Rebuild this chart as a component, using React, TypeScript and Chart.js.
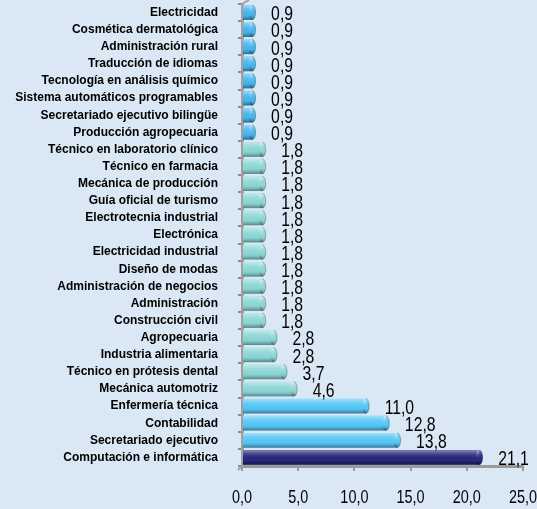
import React, { useEffect, useRef } from 'react';
import { Chart, registerables } from 'chart.js';

Chart.register(...registerables);

const categories: string[] = [
  'Electricidad',
  'Cosmética dermatológica',
  'Administración rural',
  'Traducción de idiomas',
  'Tecnología en análisis químico',
  'Sistema automáticos programables',
  'Secretariado ejecutivo bilingüe',
  'Producción agropecuaria',
  'Técnico en laboratorio clínico',
  'Técnico en farmacia',
  'Mecánica de producción',
  'Guía oficial de turismo',
  'Electrotecnia industrial',
  'Electrónica',
  'Electricidad industrial',
  'Diseño de modas',
  'Administración de negocios',
  'Administración',
  'Construcción civil',
  'Agropecuaria',
  'Industria alimentaria',
  'Técnico en prótesis dental',
  'Mecánica automotriz',
  'Enfermería técnica',
  'Contabilidad',
  'Secretariado ejecutivo',
  'Computación e informática',
];

const values: number[] = [
  0.9, 0.9, 0.9, 0.9, 0.9, 0.9, 0.9, 0.9,
  1.8, 1.8, 1.8, 1.8, 1.8, 1.8, 1.8, 1.8, 1.8, 1.8, 1.8,
  2.8, 2.8, 3.7, 4.6,
  11.0, 12.8, 13.8,
  21.1,
];

const xTickValues: number[] = [0, 5, 10, 15, 20, 25];

const BLUE = '#44b4ee';
const TEAL = '#8cd5d5';
const LIGHTBLUE = '#55c5f6';
const NAVY = '#24247a';

function barColor(v: number, i: number, n: number): string {
  if (i === n - 1) return NAVY;
  if (v >= 10) return LIGHTBLUE;
  if (v >= 1.5) return TEAL;
  return BLUE;
}

const fmt = (v: number) => v.toFixed(1).replace('.', ',');

const SANS = 'Arial, "Liberation Sans", sans-serif';

function narrowText(ctx: CanvasRenderingContext2D, text: string, x: number, y: number, sx: number, align: 'left' | 'center') {
  ctx.save();
  ctx.translate(x, y);
  ctx.scale(sx, 1);
  ctx.textAlign = align;
  ctx.fillText(text, 0, 0);
  ctx.restore();
}

const decorPlugin = {
  id: 'decor',
  beforeDraw(chart: any) {
    const { ctx, width, height } = chart;
    ctx.save();
    ctx.fillStyle = '#dae7f4';
    ctx.fillRect(0, 0, width, height);
    ctx.restore();
  },
  afterDraw(chart: any) {
    const { ctx, chartArea } = chart;
    ctx.save();
    ctx.strokeStyle = '#a0a0a0';
    ctx.lineWidth = 2;
    ctx.beginPath();
    ctx.moveTo(chartArea.left, chartArea.top);
    ctx.lineTo(chartArea.left + 7, 0);
    ctx.moveTo(chartArea.left, chartArea.bottom);
    ctx.lineTo(chartArea.left - 4, chartArea.bottom + 4);
    ctx.stroke();
    ctx.restore();
  },
  afterDatasetsDraw(chart: any) {
    const { ctx } = chart;
    const meta = chart.getDatasetMeta(0);
    const colors = chart.data.datasets[0].backgroundColor as string[];
    ctx.save();
    meta.data.forEach((bar: any, i: number) => {
      const { x, y, base, height } = bar.getProps(['x', 'y', 'base', 'height'], true);
      const top = y - height / 2;
      const bottom = y + height / 2;
      const g = ctx.createLinearGradient(0, top, 0, bottom);
      g.addColorStop(0, 'rgba(255,255,255,0.45)');
      g.addColorStop(0.3, 'rgba(255,255,255,0.12)');
      g.addColorStop(0.55, 'rgba(255,255,255,0)');
      g.addColorStop(0.8, 'rgba(0,0,0,0.12)');
      g.addColorStop(1, 'rgba(0,0,0,0.38)');
      ctx.beginPath();
      ctx.ellipse(x, y, 3.5, height / 2, 0, 0, Math.PI * 2);
      ctx.fillStyle = colors[i];
      ctx.fill();
      ctx.fillStyle = g;
      ctx.fillRect(base, top, x - base, height);
      ctx.beginPath();
      ctx.ellipse(x, y, 3.5, height / 2, 0, 0, Math.PI * 2);
      ctx.fill();
      ctx.beginPath();
      ctx.ellipse(x, y, 3.5, height / 2, 0, -Math.PI / 2, Math.PI / 2);
      ctx.strokeStyle = 'rgba(0,0,0,0.25)';
      ctx.lineWidth = 1;
      ctx.stroke();
    });
    // value labels
    ctx.fillStyle = '#000';
    ctx.font = `21px ${SANS}`;
    ctx.textBaseline = 'middle';
    meta.data.forEach((bar: any, i: number) => {
      const { x, y } = bar.getProps(['x', 'y'], true);
      narrowText(ctx, fmt(values[i]), x + 19, y + 2, 0.75, 'left');
    });
    // x tick labels (narrow)
    const xs = chart.scales.x;
    ctx.font = `19px ${SANS}`;
    ctx.textBaseline = 'middle';
    xTickValues.forEach((v) => {
      narrowText(ctx, fmt(v), xs.getPixelForValue(v), 498, 0.76, 'center');
    });
    ctx.restore();
  },
};

export default function App() {
  const ref = useRef<HTMLCanvasElement | null>(null);

  useEffect(() => {
    if (!ref.current) return;
    const chart = new Chart(ref.current, {
      type: 'bar',
      data: {
        labels: categories,
        datasets: [
          {
            data: values,
            backgroundColor: values.map((v, i) => barColor(v, i, values.length)),
            borderWidth: 0,
            barPercentage: 0.86,
            categoryPercentage: 1,
          },
        ],
      },
      options: {
        indexAxis: 'y',
        responsive: false,
        animation: false,
        devicePixelRatio: 1,
        layout: { padding: { top: 4, right: 14, bottom: 0, left: 0 } },
        plugins: {
          legend: { display: false },
          tooltip: { enabled: false },
          title: { display: false },
        },
        scales: {
          x: {
            type: 'linear',
            min: 0,
            max: 25,
            afterBuildTicks(scale: any) {
              scale.ticks = xTickValues.map((v) => ({ value: v }));
            },
            afterFit(scale: any) {
              scale.height = 43;
              scale.paddingLeft = 0;
              scale.paddingRight = 0;
            },
            grid: {
              display: true,
              drawOnChartArea: false,
              drawTicks: true,
              tickLength: 5,
              color: '#9a9a9a',
              lineWidth: 2,
            },
            border: { display: true, color: '#9a9a9a', width: 3 },
            ticks: {
              display: false,
            },
          },
          y: {
            type: 'category',
            afterFit(scale: any) {
              scale.width = 242;
              scale.paddingTop = 0;
              scale.paddingBottom = 0;
            },
            grid: {
              display: true,
              drawOnChartArea: false,
              drawTicks: true,
              tickLength: 4,
              color: '#8a8a8a',
              lineWidth: 2,
            },
            border: { display: true, color: '#a0a0a0', width: 3 },
            ticks: {
              color: '#000',
              padding: 20,
              autoSkip: false,
              font: { family: SANS, size: 12, weight: 'bold' },
            },
          },
        },
      },
      plugins: [decorPlugin],
    } as any);
    return () => chart.destroy();
  }, []);

  return (
    <div style={{ position: 'absolute', left: 0, top: 0, width: 537, height: 509 }}>
      <canvas ref={ref} width={537} height={509} style={{ display: 'block', width: 537, height: 509 }} />
    </div>
  );
}
